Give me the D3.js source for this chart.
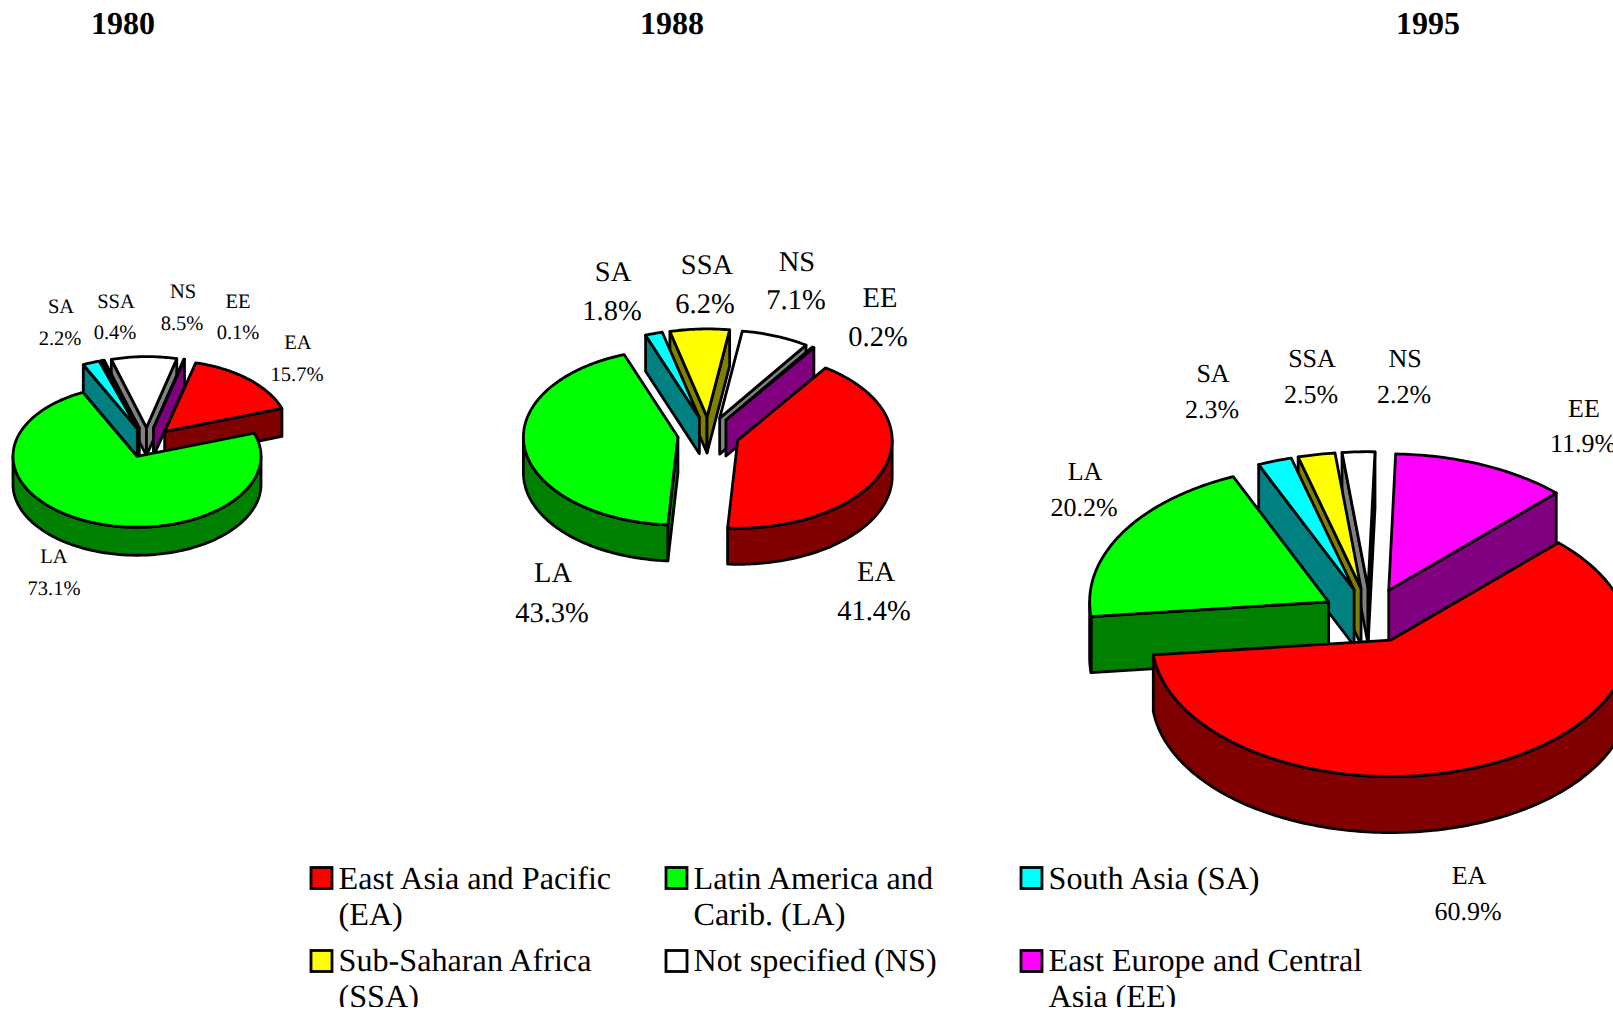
<!DOCTYPE html>
<html>
<head>
<meta charset="utf-8">
<script src="https://d3js.org/d3.v7.min.js"></script>
<style>
html, body { margin: 0; padding: 0; background: #fff; overflow: hidden; }
text { font-family: "Liberation Serif", "Times New Roman", serif; fill: #000; text-rendering: geometricPrecision; }
</style>
</head>
<body>
<svg id="chart" width="1613" height="1010"></svg>
<script>
// shares in percent, clockwise in this order
var categories = ["EA", "LA", "SA", "SSA", "NS", "EE"];
var names = [
    ["East Asia and Pacific", "(EA)"],
    ["Latin America and", "Carib. (LA)"],
    ["South Asia (SA)"],
    ["Sub-Saharan Africa", "(SSA)"],
    ["Not specified (NS)"],
    ["East Europe and Central", "Asia (EE)"]
];
var years = ["1980", "1988", "1995"];
var values1980 = [15.7, 73.1, 2.2, 0.4, 8.5, 0.1];
var values1988 = [41.4, 43.3, 1.8, 6.2, 7.1, 0.2];
var values1995 = [60.9, 20.2, 2.3, 2.5, 2.2, 11.9];

var topColors = ["#ff0000", "#00ff00", "#00ffff", "#ffff00", "#ffffff", "#ff00ff"];
var sideColors = ["#800000", "#008000", "#008080", "#808000", "#808080", "#800080"];

// pie geometry: centre, radii, wall height, first slice angle, explosion
var layouts = [
    {values: values1980, cx: 147, cy: 442.5, rx: 124, ry: 71, depth: 28, start: 14.5, explode: 0.21, font: 20.5, titleX: 123,
     labels: [[298, 342, 297, 374], [54, 556, 54, 588], [61, 306, 60, 338], [116, 301, 115, 332], [183, 291, 182, 323], [238, 301, 238, 332]]},
    {values: values1988, cx: 708.5, cy: 434.5, rx: 154.5, ry: 88, depth: 36, start: 34.7, explode: 0.2, font: 28.5, titleX: 672,
     labels: [[876, 572, 874, 611], [553, 573, 552, 613], [613, 272, 612, 311], [707, 265, 705, 304], [797, 262, 796, 300], [880, 298, 878, 337]]},
    {values: values1995, cx: 1370, cy: 615.5, rx: 239, ry: 136.5, depth: 56, start: 44.5, explode: 0.2, font: 26, titleX: 1428,
     labels: [[1469, 875, 1468, 911], [1085, 471, 1084, 507], [1213, 373, 1212, 409], [1312, 358, 1311, 394], [1405, 358, 1404, 394], [1584, 408, 1583, 443]]}
];

var svg = d3.select("#chart");
var rad = Math.PI / 180;
var line = d3.line().curve(d3.curveLinearClosed);

function drawPie(p)
{
    var pie = d3.pie()
        .sort(null)
        .startAngle(p.start * rad)
        .endAngle((p.start + 360) * rad);

    var slices = pie(p.values).map(function(d, i)
    {
        var mid = (d.startAngle + d.endAngle) / 2;
        return {
            i: i,
            a: d.startAngle,
            b: d.endAngle,
            mid: mid,
            ox: p.cx + Math.sin(mid) * p.rx * p.explode,
            oy: p.cy - Math.cos(mid) * p.ry * p.explode
        };
    });

    // back to front
    slices.sort(function(s, t)
    {
        return Math.cos(t.mid) - Math.cos(s.mid);
    });

    var g = svg.append("g");

    slices.forEach(function(s)
    {
        var rim = function(t, drop)
        {
            return [s.ox + Math.sin(t) * p.rx, s.oy - Math.cos(t) * p.ry + drop];
        };
        var arc = function(a, b, drop)
        {
            var n = Math.max(2, Math.ceil((b - a) / rad));
            return d3.range(n + 1).map(function(k)
            {
                return rim(a + (b - a) * k / n, drop);
            });
        };
        var shape = function(points, fill)
        {
            g.append("path")
                .attr("d", line(points))
                .attr("fill", fill)
                .attr("stroke", "#000")
                .attr("stroke-width", 2.8)
                .attr("stroke-linejoin", "round");
        };
        var side = sideColors[s.i];
        var apex = [s.ox, s.oy];
        var apexLow = [s.ox, s.oy + p.depth];

        if(Math.sin(s.a) < 0)
            shape([apex, rim(s.a, 0), rim(s.a, p.depth), apexLow], side);
        if(Math.sin(s.b) > 0)
            shape([apex, rim(s.b, 0), rim(s.b, p.depth), apexLow], side);

        var from = Math.max(s.a, 90 * rad), to = Math.min(s.b, 270 * rad);
        if(from < to)
            shape(arc(from, to, 0).concat(arc(from, to, p.depth).reverse()), side);

        shape([apex].concat(arc(s.a, s.b, 0)), topColors[s.i]);
    });

    // labels, placed by hand in the source chart
    var labels = svg.append("g")
        .attr("text-anchor", "middle")
        .attr("font-size", p.font);

    p.labels.forEach(function(pos, i)
    {
        labels.append("text")
            .attr("x", pos[0])
            .attr("y", pos[1] + p.font * 0.33)
            .text(categories[i]);
        labels.append("text")
            .attr("x", pos[2])
            .attr("y", pos[3] + p.font * 0.33)
            .text(p.values[i].toFixed(1) + "%");
    });
}

layouts.forEach(drawPie);

svg.selectAll(".title")
    .data(layouts)
    .enter().append("text")
    .attr("class", "title")
    .attr("x", function(d) { return d.titleX; })
    .attr("y", 34)
    .attr("text-anchor", "middle")
    .attr("font-size", 32)
    .attr("font-weight", "bold")
    .text(function(d, i) { return years[i]; });

// legend, cut off at the bottom as in the source
svg.append("clipPath").attr("id", "legendClip")
    .append("rect")
    .attr("x", 0).attr("y", 850)
    .attr("width", 1613).attr("height", 157);

var colX = d3.scaleOrdinal().domain([0, 1, 2]).range([311, 666, 1021]);
var rowY = d3.scaleOrdinal().domain([0, 1]).range([867.5, 950.5]);

var legend = svg.append("g")
    .attr("clip-path", "url(#legendClip)");

var entries = legend.selectAll("g")
    .data(names)
    .enter().append("g")
    .attr("transform", function(d, i)
    {
        return "translate(" + colX(i % 3) + "," + rowY(Math.floor(i / 3)) + ")";
    });

entries.append("rect")
    .attr("width", 21)
    .attr("height", 21)
    .attr("fill", function(d, i) { return topColors[i]; })
    .attr("stroke", "#000")
    .attr("stroke-width", 2.8);

entries.each(function(d, i)
{
    var shift = i > 2 ? 20 : 21.5;
    d3.select(this).selectAll("text")
        .data(d)
        .enter().append("text")
        .attr("x", 27.5)
        .attr("y", function(t, j) { return shift + j * 36; })
        .attr("font-size", 32.2)
        .text(function(t) { return t; });
});
</script>
</body>
</html>
